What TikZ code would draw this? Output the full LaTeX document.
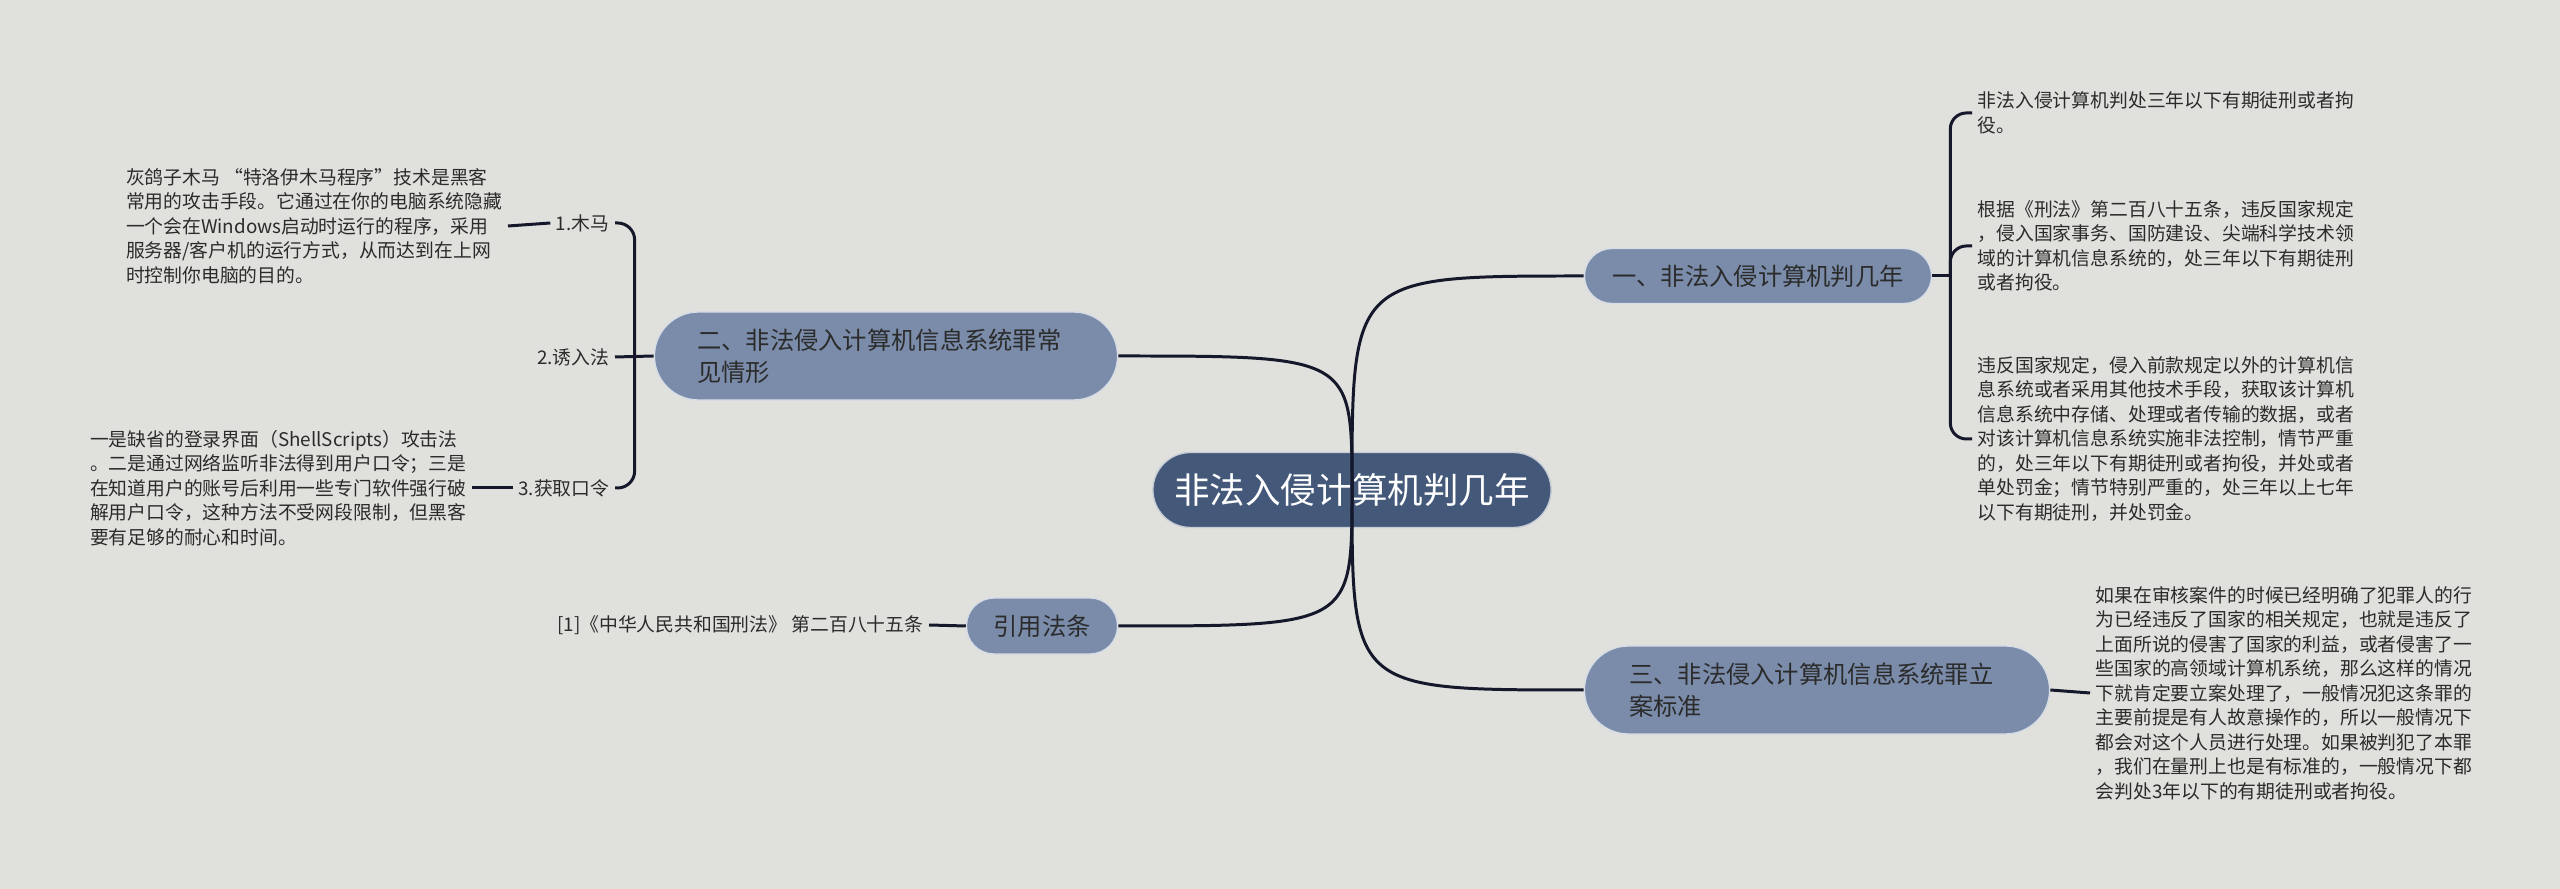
\documentclass[tikz,border=0pt]{standalone}
\usepackage{fontspec}
\setmainfont{Noto Sans CJK SC}
\usepackage{tikz}
\usetikzlibrary{calc, positioning}
\definecolor{paper}{HTML}{E0E0DC}
\definecolor{rootblue}{HTML}{44597A}
\definecolor{topicblue}{HTML}{7A8CAA}
\definecolor{inkdark}{HTML}{2B2B2B}
\definecolor{linkdark}{HTML}{14182A}
\tikzset{
	root/.style={rectangle, fill=rootblue, draw=white!70!rootblue, line width=0.4pt, text=white,
		font=\fontsize{10.1}{12}\selectfont, minimum width=3.98cm, minimum height=0.75cm,
		rounded corners=0.375cm, inner sep=0pt},
	topic/.style={rectangle, fill=topicblue, draw=white!70!topicblue, line width=0.4pt, text=inkdark,
		font=\fontsize{6.9}{9.1}\selectfont, rounded corners=0.275cm, inner sep=0pt},
	longtopic/.style={topic, align=left, minimum height=0.88cm, rounded corners=0.44cm},
	tag/.style={text=inkdark, font=\fontsize{5.35}{6.97}\selectfont, inner sep=0.05cm},
	note/.style={tag, align=left},
	link/.style={draw=linkdark, line width=0.85pt}
}

\begin{document}
\begin{tikzpicture}[x=0.01cm, y=-0.01cm]
	% Canvas
	\fill[paper] (0,0) rectangle (2560,889);
	\useasboundingbox (0,0) rectangle (2560,889);

	% Central topic
	\node[root] (R) at (1352,490) {非法入侵计算机判几年};

	% Main topics
	\node[topic, minimum width=3.47cm, minimum height=0.55cm] (T-1) at (1758,276) {一、非法入侵计算机判几年};
	\node[longtopic, text width=3.77cm, inner xsep=0.43cm] (T-2) at (886,356)
		{二、非法侵入计算机信息系统罪常\\见情形};
	\node[longtopic, text width=3.75cm, inner xsep=0.45cm] (T-3) at (1817,690)
		{三、非法侵入计算机信息系统罪立\\案标准};
	\node[topic, minimum width=1.51cm, minimum height=0.56cm] (T-4) at (1042,626) {引用法条};

	% Subtopics of T-2
	\node[tag, anchor=east] (S-1) at (615,223) {1.木马};
	\node[tag, anchor=east] (S-2) at (615,357) {2.诱入法};
	\node[tag, anchor=east] (S-3) at (615,488) {3.获取口令};

	% Notes
	\node[note, anchor=east] (N-1) at (508,226)
		{灰鸽子木马 “特洛伊木马程序”技术是黑客\\
		 常用的攻击手段。它通过在你的电脑系统隐藏\\
		 一个会在Windows启动时运行的程序，采用\\
		 服务器/客户机的运行方式，从而达到在上网\\
		 时控制你电脑的目的。};
	\node[note, anchor=east] (N-3) at (472,488)
		{一是缺省的登录界面（ShellScripts）攻击法\\
		 。二是通过网络监听非法得到用户口令；三是\\
		 在知道用户的账号后利用一些专门软件强行破\\
		 解用户口令，这种方法不受网段限制，但黑客\\
		 要有足够的耐心和时间。};
	\node[tag, anchor=east] (C-1) at (929,625) {[1]《中华人民共和国刑法》 第二百八十五条};

	\node[note, anchor=west] (B-1) at (1972,113)
		{非法入侵计算机判处三年以下有期徒刑或者拘\\
		 役。};
	\node[note, anchor=west] (B-2) at (1972,246)
		{根据《刑法》第二百八十五条，违反国家规定\\
		 ，侵入国家事务、国防建设、尖端科学技术领\\
		 域的计算机信息系统的，处三年以下有期徒刑\\
		 或者拘役。};
	\node[note, anchor=west] (B-3) at (1972,439)
		{违反国家规定，侵入前款规定以外的计算机信\\
		 息系统或者采用其他技术手段，获取该计算机\\
		 信息系统中存储、处理或者传输的数据，或者\\
		 对该计算机信息系统实施非法控制，情节严重\\
		 的，处三年以下有期徒刑或者拘役，并处或者\\
		 单处罚金；情节特别严重的，处三年以上七年\\
		 以下有期徒刑，并处罚金。};
	\node[note, anchor=west] (B-4) at (2090,693)
		{如果在审核案件的时候已经明确了犯罪人的行\\
		 为已经违反了国家的相关规定，也就是违反了\\
		 上面所说的侵害了国家的利益，或者侵害了一\\
		 些国家的高领域计算机系统，那么这样的情况\\
		 下就肯定要立案处理了，一般情况犯这条罪的\\
		 主要前提是有人故意操作的，所以一般情况下\\
		 都会对这个人员进行处理。如果被判犯了本罪\\
		 ，我们在量刑上也是有标准的，一般情况下都\\
		 会判处3年以下的有期徒刑或者拘役。};

	% Connections from the centre
	\foreach \t/\a in {T-1/west, T-2/east, T-3/west, T-4/east}
	\draw[link] (R.center) .. controls (R.center |- \t.\a) .. (\t.\a);

	% Brackets
	\coordinate (J-1) at ($(T-1.east)+(18,0)$);
	\draw[link] (T-1.east) -- (J-1);
	\foreach \b in {1,2,3}
	\draw[link, rounded corners=0.16cm] (J-1) |- (B-\b.west);

	\coordinate (J-2) at ($(T-2.west)+(-19,0)$);
	\draw[link] (T-2.west) -- (S-2.east);
	\foreach \s in {1,3}
	\draw[link, rounded corners=0.17cm] (J-2) |- (S-\s.east);

	\draw[link] (T-3.east) -- (B-4.west);
	\draw[link] (T-4.west) -- (C-1.east);
	\draw[link] (S-1.west) -- (N-1.east);
	\draw[link] (S-3.west) -- (N-3.east);
\end{tikzpicture}
\end{document}
